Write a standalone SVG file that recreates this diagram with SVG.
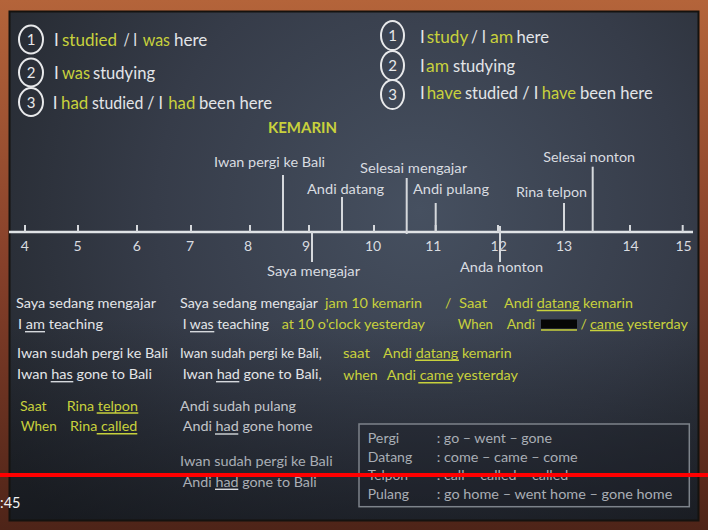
<svg xmlns="http://www.w3.org/2000/svg" width="708" height="530" viewBox="0 0 708 530">
<defs>
<linearGradient id="wood" x1="0" y1="0" x2="0" y2="1">
<stop offset="0" stop-color="#b4643a"/>
<stop offset="0.5" stop-color="#86402a"/>
<stop offset="1" stop-color="#4e2418"/>
</linearGradient>
<radialGradient id="board" cx="420" cy="210" r="480" gradientUnits="userSpaceOnUse">
<stop offset="0" stop-color="#465060"/>
<stop offset="0.55" stop-color="#363c49"/>
<stop offset="1" stop-color="#252930"/>
</radialGradient>
<linearGradient id="shade" x1="0" y1="0" x2="0" y2="1">
<stop offset="0" stop-color="#0c0e12" stop-opacity="0"/>
<stop offset="0.6" stop-color="#0c0e12" stop-opacity="0"/>
<stop offset="1" stop-color="#0c0e12" stop-opacity="0.55"/>
</linearGradient>
<style>
text{font-family:Lato,"Liberation Sans",sans-serif}
.f17{font-size:17px}
.f14{font-size:14px}
.w{fill:#e3e5e8}
.y{fill:#c8d13c}
.g{fill:#c2c5ca}
.bx{fill:#a9aeb5}
.lb{fill:#d9dce0;font-size:14px}
.num{fill:#d9dce0;font-size:14px;text-anchor:middle}
.circ{fill:none;stroke:#e8e9eb;stroke-width:2}
.cn{fill:#e8e9eb;font-size:15px;text-anchor:middle}
.ev{stroke:#d5d8dc;stroke-width:2}
.tk{stroke:#d5d8dc;stroke-width:2}
.uw{stroke:#d5d8dc;stroke-width:1.4}
.uy{stroke:#c8d13c;stroke-width:1.4}
</style>
</defs>

<!-- frame and board -->
<rect x="0" y="0" width="708" height="530" fill="url(#wood)"/>
<rect x="9" y="11" width="690" height="510" fill="url(#board)"/>
<rect x="9" y="11" width="690" height="510" fill="url(#shade)"/>
<rect x="9.5" y="11.5" width="689" height="509" fill="none" stroke="#15120f" stroke-width="2"/>

<!-- top-left tenses -->
<g id="past-list" class="f17">
<ellipse class="circ" cx="31" cy="39.5" rx="12" ry="14"/>
<text class="cn" x="31" y="45">1</text>
<ellipse class="circ" cx="31" cy="72.5" rx="12" ry="14"/>
<text class="cn" x="31" y="78">2</text>
<ellipse class="circ" cx="31" cy="102" rx="12" ry="14"/>
<text class="cn" x="31" y="107.5">3</text>
<text class="w" x="54" y="46">I</text>
<text class="y" x="62" y="46" textLength="55" lengthAdjust="spacingAndGlyphs">studied</text>
<text class="w" x="123.5" y="46" textLength="13.5" lengthAdjust="spacingAndGlyphs">/ I</text>
<text class="y" x="142.7" y="46" textLength="27.3" lengthAdjust="spacingAndGlyphs">was</text>
<text class="w" x="174" y="46" textLength="33.3" lengthAdjust="spacingAndGlyphs">here</text>
<text class="w" x="54" y="79">I</text>
<text class="y" x="62" y="79" textLength="28" lengthAdjust="spacingAndGlyphs">was</text>
<text class="w" x="93" y="79" textLength="62" lengthAdjust="spacingAndGlyphs">studying</text>
<text class="w" x="52.7" y="109">I</text>
<text class="y" x="61" y="109" textLength="27.3" lengthAdjust="spacingAndGlyphs">had</text>
<text class="w" x="92" y="109" textLength="71" lengthAdjust="spacingAndGlyphs">studied / I</text>
<text class="y" x="168.3" y="109" textLength="27" lengthAdjust="spacingAndGlyphs">had</text>
<text class="w" x="199" y="109" textLength="73" lengthAdjust="spacingAndGlyphs">been here</text>
</g>

<!-- top-right tenses -->
<g id="present-list" class="f17">
<ellipse class="circ" cx="392.5" cy="35.5" rx="11.5" ry="14.5"/>
<text class="cn" x="392.5" y="41">1</text>
<ellipse class="circ" cx="392.5" cy="65.5" rx="11.5" ry="14.5"/>
<text class="cn" x="392.5" y="71">2</text>
<ellipse class="circ" cx="392.5" cy="94.5" rx="11.5" ry="14.5"/>
<text class="cn" x="392.5" y="100">3</text>
<text class="w" x="420" y="42.7">I</text>
<text class="y" x="426.7" y="42.7" textLength="41.6" lengthAdjust="spacingAndGlyphs">study</text>
<text class="w" x="471" y="42.7" textLength="15" lengthAdjust="spacingAndGlyphs">/ I</text>
<text class="y" x="490" y="42.7" textLength="23.3" lengthAdjust="spacingAndGlyphs">am</text>
<text class="w" x="516.5" y="42.7" textLength="32.5" lengthAdjust="spacingAndGlyphs">here</text>
<text class="w" x="420" y="71.7">I</text>
<text class="y" x="426" y="71.7" textLength="23" lengthAdjust="spacingAndGlyphs">am</text>
<text class="w" x="453" y="71.7" textLength="62" lengthAdjust="spacingAndGlyphs">studying</text>
<text class="w" x="420" y="99.3">I</text>
<text class="y" x="426.7" y="99.3" textLength="35" lengthAdjust="spacingAndGlyphs">have</text>
<text class="w" x="465" y="99.3" textLength="73.3" lengthAdjust="spacingAndGlyphs">studied / I</text>
<text class="y" x="541.7" y="99.3" textLength="34.3" lengthAdjust="spacingAndGlyphs">have</text>
<text class="w" x="580" y="99.3" textLength="72.7" lengthAdjust="spacingAndGlyphs">been here</text>
</g>

<text id="kemarin" class="y" x="268" y="133.3" font-size="14.5" font-weight="bold" textLength="69" lengthAdjust="spacingAndGlyphs">KEMARIN</text>

<!-- timeline axis -->
<g id="axis">
<line x1="9" y1="232" x2="693" y2="232" stroke="#e0e3e6" stroke-width="2.5"/>
<line class="tk" x1="25" y1="225" x2="25" y2="232"/>
<line class="tk" x1="78" y1="225" x2="78" y2="232"/>
<line class="tk" x1="137" y1="225" x2="137" y2="232"/>
<line class="tk" x1="191" y1="225" x2="191" y2="232"/>
<line class="tk" x1="250" y1="225" x2="250" y2="232"/>
<line class="tk" x1="309" y1="225" x2="309" y2="232"/>
<line class="tk" x1="374" y1="225" x2="374" y2="232"/>
<line class="tk" x1="435.7" y1="225" x2="435.7" y2="232"/>
<line class="tk" x1="498" y1="225" x2="498" y2="232"/>
<line class="tk" x1="564" y1="225" x2="564" y2="232"/>
<line class="tk" x1="630" y1="225" x2="630" y2="232"/>
<line class="tk" x1="682.7" y1="225" x2="682.7" y2="232"/>
<text class="num" x="24.7" y="251.3">4</text>
<text class="num" x="77.5" y="251.3">5</text>
<text class="num" x="136.7" y="251.3">6</text>
<text class="num" x="190" y="251.3">7</text>
<text class="num" x="248" y="251.3">8</text>
<text class="num" x="306" y="251.3">9</text>
<text class="num" x="373" y="251.3">10</text>
<text class="num" x="433.3" y="251.3">11</text>
<text class="num" x="498.7" y="251.3">12</text>
<text class="num" x="564" y="251.3">13</text>
<text class="num" x="630.5" y="251.3">14</text>
<text class="num" x="683.5" y="251.3">15</text>
</g>

<!-- timeline events -->
<g id="connectors">
<line class="ev" x1="283" y1="175" x2="283" y2="232"/>
<line class="ev" x1="312" y1="232" x2="312" y2="262"/>
<line class="ev" x1="342" y1="197" x2="342" y2="232"/>
<line class="ev" x1="406.7" y1="178" x2="406.7" y2="234"/>
<line class="ev" x1="435.7" y1="203" x2="435.7" y2="232"/>
<line class="ev" x1="500" y1="226" x2="500" y2="262"/>
<line class="ev" x1="564" y1="203" x2="564" y2="232"/>
<line class="ev" x1="592.7" y1="166.7" x2="592.7" y2="232"/>
</g>
<g id="ev-iwan"><text class="lb" x="214" y="166.7" textLength="111" lengthAdjust="spacingAndGlyphs">Iwan pergi ke Bali</text></g>
<g id="ev-selesai-mengajar"><text class="lb" x="360" y="173.3" textLength="107" lengthAdjust="spacingAndGlyphs">Selesai mengajar</text></g>
<g id="ev-andi-datang"><text class="lb" x="307" y="194" textLength="77" lengthAdjust="spacingAndGlyphs">Andi datang</text></g>
<g id="ev-andi-pulang"><text class="lb" x="413" y="194" textLength="76" lengthAdjust="spacingAndGlyphs">Andi pulang</text></g>
<g id="ev-saya-mengajar"><text class="lb" x="267" y="276" textLength="93" lengthAdjust="spacingAndGlyphs">Saya mengajar</text></g>
<g id="ev-anda-nonton"><text class="lb" x="460" y="271.7" textLength="83" lengthAdjust="spacingAndGlyphs">Anda nonton</text></g>
<g id="ev-rina-telpon"><text class="lb" x="516" y="196.7" textLength="71" lengthAdjust="spacingAndGlyphs">Rina telpon</text></g>
<g id="ev-selesai-nonton"><text class="lb" x="543.3" y="161.7" textLength="91.7" lengthAdjust="spacingAndGlyphs">Selesai nonton</text></g>

<!-- example sentences -->
<g id="examples" class="f14">
<text class="w" x="16" y="308" textLength="140" lengthAdjust="spacingAndGlyphs">Saya sedang mengajar</text>
<text class="w" x="180" y="308" textLength="138" lengthAdjust="spacingAndGlyphs">Saya sedang mengajar</text>
<text class="y" x="325" y="308" textLength="97" lengthAdjust="spacingAndGlyphs">jam 10 kemarin</text>
<text class="y" x="445" y="308">/</text>
<text class="y" x="459" y="308" textLength="28" lengthAdjust="spacingAndGlyphs">Saat</text>
<text class="y" x="504" y="308" textLength="129" lengthAdjust="spacingAndGlyphs">Andi datang kemarin</text>
<line class="uy" x1="536.7" y1="310.5" x2="581" y2="310.5"/>

<text class="w" x="18" y="329" textLength="85" lengthAdjust="spacingAndGlyphs">I am teaching</text>
<line class="uw" x1="25" y1="331.7" x2="45" y2="331.7"/>
<text class="w" x="182.7" y="329" textLength="86.3" lengthAdjust="spacingAndGlyphs">I was teaching</text>
<line class="uw" x1="190" y1="331.7" x2="214.3" y2="331.7"/>
<text class="y" x="281.7" y="329" textLength="143.3" lengthAdjust="spacingAndGlyphs">at 10 o'clock yesterday</text>
<text class="y" x="457.7" y="328.5" textLength="35.3" lengthAdjust="spacingAndGlyphs">When</text>
<text class="y" x="506.7" y="328.5" textLength="28.3" lengthAdjust="spacingAndGlyphs">Andi</text>
<rect x="541" y="319.5" width="36" height="9" fill="#060606"/>
<line class="uy" x1="541" y1="330" x2="577" y2="330"/>
<text class="y" x="580.5" y="328.5">/</text>
<text class="y" x="590" y="328.5" textLength="98" lengthAdjust="spacingAndGlyphs">came yesterday</text>
<line class="uy" x1="590" y1="330.5" x2="624.3" y2="330.5"/>

<text class="w" x="17" y="357.7" textLength="151" lengthAdjust="spacingAndGlyphs">Iwan sudah pergi ke Bali</text>
<text class="w" x="180" y="357.7" textLength="141.7" lengthAdjust="spacingAndGlyphs">Iwan sudah pergi ke Bali,</text>
<text class="y" x="343" y="357.7" textLength="27" lengthAdjust="spacingAndGlyphs">saat</text>
<text class="y" x="383" y="357.7" textLength="128.7" lengthAdjust="spacingAndGlyphs">Andi datang kemarin</text>
<line class="uy" x1="415" y1="360.3" x2="459" y2="360.3"/>

<text class="w" x="17" y="379" textLength="135" lengthAdjust="spacingAndGlyphs">Iwan has gone to Bali</text>
<line class="uw" x1="50.7" y1="381.7" x2="73.3" y2="381.7"/>
<text class="w" x="182.7" y="379" textLength="139" lengthAdjust="spacingAndGlyphs">Iwan had gone to Bali,</text>
<line class="uw" x1="216" y1="381.7" x2="239.3" y2="381.7"/>
<text class="y" x="343.3" y="380" textLength="34.4" lengthAdjust="spacingAndGlyphs">when</text>
<text class="y" x="386.7" y="380" textLength="131.3" lengthAdjust="spacingAndGlyphs">Andi came yesterday</text>
<line class="uy" x1="418.3" y1="382.7" x2="452.3" y2="382.7"/>

<text class="y" x="20" y="411" textLength="26.7" lengthAdjust="spacingAndGlyphs">Saat</text>
<text class="y" x="66.7" y="411" textLength="71.3" lengthAdjust="spacingAndGlyphs">Rina telpon</text>
<line class="uy" x1="96.7" y1="413" x2="138.3" y2="413"/>
<text class="g" x="180" y="411" textLength="116" lengthAdjust="spacingAndGlyphs">Andi sudah pulang</text>

<text class="y" x="20.7" y="430.7" textLength="36" lengthAdjust="spacingAndGlyphs">When</text>
<text class="y" x="70" y="430.7" textLength="67.3" lengthAdjust="spacingAndGlyphs">Rina called</text>
<line class="uy" x1="96.7" y1="433.7" x2="137.3" y2="433.7"/>
<text class="g" x="182.7" y="431" textLength="130" lengthAdjust="spacingAndGlyphs">Andi had gone home</text>
<line class="uw" x1="215" y1="434" x2="238.3" y2="434"/>

<text class="bx" x="180" y="466" textLength="152.7" lengthAdjust="spacingAndGlyphs">Iwan sudah pergi ke Bali</text>
<text class="bx" x="182.7" y="486.7" textLength="134" lengthAdjust="spacingAndGlyphs">Andi had gone to Bali</text>
<line class="uw" x1="215" y1="489.3" x2="238.3" y2="489.3" stroke="#a9aeb5"/>
</g>

<!-- verb table -->
<g id="verb-table" class="f14">
<rect x="359" y="424" width="330.3" height="82.7" fill="#1c2027" fill-opacity="0.35" stroke="#7d838b" stroke-width="1.5"/>
<text class="bx" x="367.7" y="443.3" textLength="31.6" lengthAdjust="spacingAndGlyphs">Pergi</text>
<text class="bx" x="436.7" y="443.3" textLength="115.3" lengthAdjust="spacingAndGlyphs">: go – went – gone</text>
<text class="bx" x="367.7" y="461.7" textLength="44.6" lengthAdjust="spacingAndGlyphs">Datang</text>
<text class="bx" x="436.7" y="461.7" textLength="141" lengthAdjust="spacingAndGlyphs">: come – came – come</text>
<text class="bx" x="367.7" y="480.3" textLength="40.3" lengthAdjust="spacingAndGlyphs">Telpon</text>
<text class="bx" x="436.7" y="480.3" textLength="131.6" lengthAdjust="spacingAndGlyphs">: call – called – called</text>
<text class="bx" x="367.7" y="499.3" textLength="41.3" lengthAdjust="spacingAndGlyphs">Pulang</text>
<text class="bx" x="436.7" y="499.3" textLength="235.6" lengthAdjust="spacingAndGlyphs">: go home – went home – gone home</text>
</g>

<!-- video overlay -->
<rect x="0" y="473" width="708" height="4" fill="#ff0000"/>
<text x="0" y="507.5" font-size="14.5" fill="#f2f2f2">:45</text>
</svg>
